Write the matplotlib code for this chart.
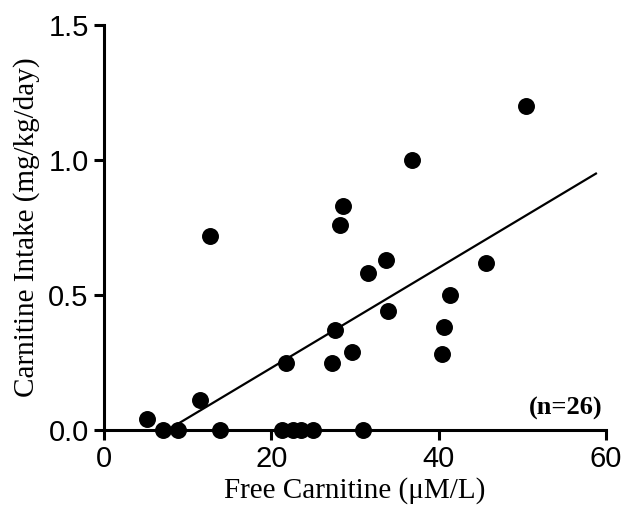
import numpy as np
import matplotlib.pyplot as plt

# Free carnitine (uM/L) and carnitine intake (mg/kg/day)
free_carnitine = [5.1, 7.1, 8.8, 11.5, 12.7, 13.9, 21.3, 21.7, 22.6, 23.5,
                  25.0, 27.3, 27.6, 28.2, 28.6, 29.6, 31.0, 31.5, 33.7, 33.9,
                  36.8, 40.4, 40.6, 41.3, 45.7, 50.5]
intake = [0.04, 0.0, 0.0, 0.11, 0.72, 0.0, 0.0, 0.25, 0.0, 0.0,
          0.0, 0.25, 0.37, 0.76, 0.83, 0.29, 0.0, 0.58, 0.63, 0.44,
          1.0, 0.28, 0.38, 0.5, 0.62, 1.2]

# regression line as drawn
fit_slope = 0.01855
fit_intercept = -0.141
fit_range = [7.6, 58.8]

x_ticks = [0, 20, 40, 60]
y_ticks = [0.0, 0.5, 1.0, 1.5]

fig = plt.figure(figsize=(6.33, 5.08), dpi=100)
ax = fig.add_axes([0.1643, 0.1535, 0.7930, 0.7973])

ax.scatter(free_carnitine, intake, s=125, color='black', zorder=3, clip_on=False)

fx = np.array(fit_range)
ax.plot(fx, fit_slope * fx + fit_intercept, color='black', lw=1.6, clip_on=False)

ax.set_xlim(0, 60)
ax.set_ylim(0, 1.5)
ax.set_xticks(x_ticks)
ax.set_yticks(y_ticks)
ax.set_xticklabels([str(t) for t in x_ticks])
ax.set_yticklabels([f'{t:.1f}' for t in y_ticks])

for side in ['top', 'right']:
    ax.spines[side].set_visible(False)
for side in ['left', 'bottom']:
    ax.spines[side].set_linewidth(2.2)

tick_font = ['Liberation Sans Narrow', 'Liberation Sans', 'DejaVu Sans']
ax.tick_params(width=2.2, length=7, labelsize=21, pad=4)
for lab in ax.get_xticklabels() + ax.get_yticklabels():
    lab.set_family(tick_font)

ax.set_xlabel('Free Carnitine (\u03bcM/L)', family='Liberation Serif', fontsize=21, labelpad=3)
ax.set_ylabel('Carnitine Intake (mg/kg/day)', family='Liberation Serif', fontsize=21, labelpad=6)

ax.text(0.994, 0.054, '(n=26)', transform=ax.transAxes, ha='right', va='center',
        family='Liberation Serif', fontweight='bold', fontsize=19)

fig.savefig('out.png', dpi=100)
